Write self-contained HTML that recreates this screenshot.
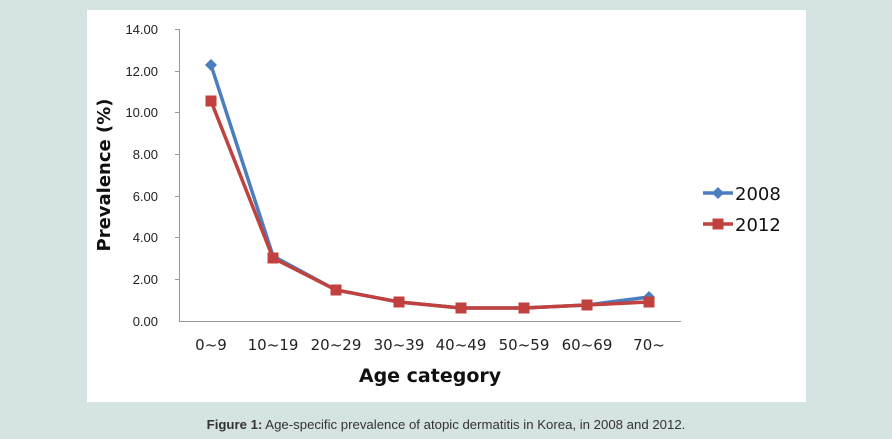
<!DOCTYPE html>
<html><head><meta charset="utf-8"><style>
html,body{margin:0;padding:0;width:892px;height:439px;background:#d5e3e3;overflow:hidden}
</style></head><body>
<svg width="892" height="439" xmlns="http://www.w3.org/2000/svg" style="position:absolute;left:0;top:0">
<rect x="87" y="10" width="719" height="392" fill="#fff"/>
<g font-family="Liberation Sans, DejaVu Sans, sans-serif" font-size="13" fill="#222" text-anchor="end">
<text x="158" y="34">14.00</text>
<text x="158" y="76">12.00</text>
<text x="158" y="117">10.00</text>
<text x="158" y="159">8.00</text>
<text x="158" y="201">6.00</text>
<text x="158" y="242">4.00</text>
<text x="158" y="284">2.00</text>
<text x="158" y="326">0.00</text>
</g>
<g stroke="#999" stroke-width="1">
<line x1="179.5" y1="29" x2="179.5" y2="321"/>
<line x1="179" y1="321.5" x2="681" y2="321.5"/>
<line x1="175" y1="29.5" x2="180" y2="29.5"/>
<line x1="175" y1="71.5" x2="180" y2="71.5"/>
<line x1="175" y1="112.5" x2="180" y2="112.5"/>
<line x1="175" y1="154.5" x2="180" y2="154.5"/>
<line x1="175" y1="196.5" x2="180" y2="196.5"/>
<line x1="175" y1="237.5" x2="180" y2="237.5"/>
<line x1="175" y1="279.5" x2="180" y2="279.5"/>
</g>
<g font-family="DejaVu Sans, Liberation Sans, sans-serif" font-size="15" fill="#222" text-anchor="middle">
<text x="211" y="350">0~9</text>
<text x="273" y="350">10~19</text>
<text x="336" y="350">20~29</text>
<text x="399" y="350">30~39</text>
<text x="461" y="350">40~49</text>
<text x="524" y="350">50~59</text>
<text x="587" y="350">60~69</text>
<text x="649" y="350">70~</text>
</g>
<text x="430" y="382" font-family="DejaVu Sans, Liberation Sans, sans-serif" font-size="19" font-weight="bold" text-anchor="middle" fill="#111">Age category</text>
<text transform="translate(110,175) rotate(-90)" font-family="DejaVu Sans, Liberation Sans, sans-serif" font-size="18" font-weight="bold" text-anchor="middle" fill="#111">Prevalence (%)</text>
<polyline fill="none" stroke="#4a7ebf" stroke-width="3.5" points="211,65 273,256 336,290 399,302 461,308 524,308 587,305 649,297"/>
<g fill="#4a7ebf">
<polygon points="211,59 217,65 211,71 205,65"/>
<polygon points="649,291 655,297 649,303 643,297"/>
<polygon points="718,187 724,193 718,199 712,193"/>
</g>
<line x1="703" y1="193" x2="733" y2="193" stroke="#4a7ebf" stroke-width="3.5"/>
<polyline fill="none" stroke="#c0413e" stroke-width="3.5" points="211,101 273,258 336,290 399,302 461,308 524,308 587,305 649,302"/>
<g fill="#c0413e">
<rect x="205.5" y="95.5" width="11" height="11"/>
<rect x="267.5" y="252.5" width="11" height="11"/>
<rect x="330.5" y="284.5" width="11" height="11"/>
<rect x="393.5" y="296.5" width="11" height="11"/>
<rect x="455.5" y="302.5" width="11" height="11"/>
<rect x="518.5" y="302.5" width="11" height="11"/>
<rect x="581.5" y="299.5" width="11" height="11"/>
<rect x="643.5" y="296.5" width="11" height="11"/>
<rect x="712.5" y="218.5" width="11" height="11"/>
</g>
<line x1="703" y1="224" x2="733" y2="224" stroke="#c0413e" stroke-width="3.5"/>
<g font-family="DejaVu Sans, Liberation Sans, sans-serif" font-size="18" fill="#111">
<text x="735" y="200">2008</text>
<text x="735" y="231">2012</text>
</g>
<text x="446" y="429" font-family="Liberation Sans, Arial, sans-serif" font-size="13.2" text-anchor="middle" fill="#333"><tspan font-weight="bold">Figure 1:</tspan> Age-specific prevalence of atopic dermatitis in Korea, in 2008 and 2012.</text>
</svg>
</body></html>
